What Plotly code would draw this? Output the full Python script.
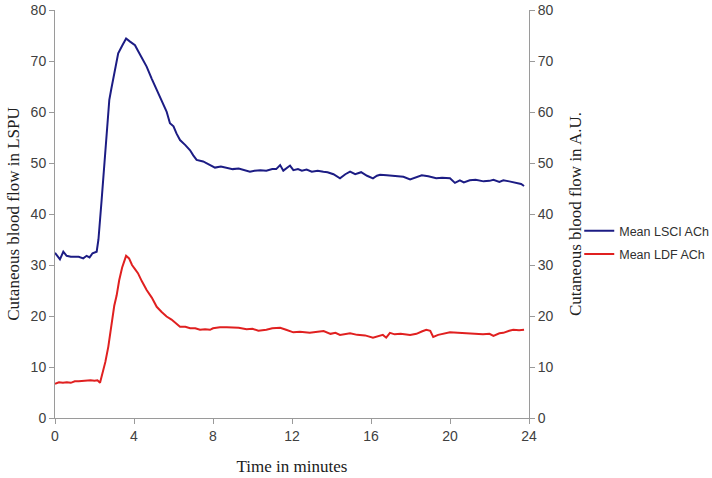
import plotly.graph_objects as go

lsci_t = [0, 0.25, 0.42, 0.59, 0.8, 1.0, 1.2, 1.43, 1.6, 1.75, 1.9, 2.11, 2.2, 2.36, 2.47, 2.58, 2.67, 2.75, 2.85, 2.95,
          3.08, 3.2, 3.4, 3.6, 3.8, 4.05, 4.2, 4.4, 4.64, 4.9, 5.15, 5.4, 5.65, 5.82, 6.0, 6.15, 6.33, 6.6, 6.84, 7.0,
          7.17, 7.5, 7.85, 8.1, 8.4, 8.7, 9.0, 9.3, 9.6, 9.87, 10.1, 10.4, 10.7, 11.0, 11.2, 11.4, 11.56, 11.75, 11.9,
          12.07, 12.3, 12.5, 12.74, 13.0, 13.3, 13.59, 13.8, 14.1, 14.43, 14.7, 14.94, 15.2, 15.5, 15.8, 16.1, 16.3,
          16.46, 16.8, 17.1, 17.4, 17.64, 17.98, 18.3, 18.57, 18.9, 19.3, 19.6, 20.0, 20.25, 20.5, 20.7, 21.0, 21.3,
          21.7, 22.0, 22.2, 22.5, 22.7, 23.0, 23.4, 23.6, 23.75]
lsci_v = [32.4, 31.1, 32.6, 31.8, 31.6, 31.6, 31.6, 31.3, 31.8, 31.5, 32.3, 32.6, 35.0, 42.7, 48.0, 53.9, 59.0, 62.4, 64.5, 66.3,
          69.0, 71.5, 73.0, 74.4, 73.8, 73.1, 72.0, 70.6, 68.9, 66.5, 64.3, 62.0, 60.1, 57.8, 57.2, 55.8, 54.5, 53.5, 52.5, 51.5,
          50.6, 50.3, 49.6, 49.1, 49.3, 49.0, 48.8, 48.9, 48.6, 48.3, 48.5, 48.6, 48.5, 48.8, 48.8, 49.6, 48.5, 49.0, 49.5,
          48.6, 48.8, 48.5, 48.7, 48.3, 48.5, 48.3, 48.2, 47.8, 47.0, 47.8, 48.3, 47.8, 48.2, 47.5, 47.0, 47.5,
          47.7, 47.6, 47.5, 47.5, 47.3, 46.8, 47.2, 47.6, 47.4, 47.0, 47.1, 47.0, 46.1, 46.6, 46.2, 46.6, 46.7,
          46.4, 46.5, 46.7, 46.3, 46.6, 46.4, 46.1, 45.9, 45.5]

ldf_t = [0, 0.2, 0.4, 0.6, 0.8, 1.0, 1.2, 1.4, 1.6, 1.8, 2.0, 2.15, 2.28, 2.4, 2.55, 2.7, 2.85, 3.0, 3.12, 3.25, 3.4,
         3.6, 3.75, 3.9, 4.05, 4.2, 4.4, 4.64, 4.9, 5.15, 5.4, 5.65, 5.9, 6.1, 6.33, 6.6, 6.84, 7.1, 7.34, 7.6, 7.85,
         8.0, 8.35, 8.7, 9.03, 9.3, 9.7, 10.0, 10.3, 10.7, 11.0, 11.4, 11.7, 12.07, 12.4, 12.9, 13.3, 13.6, 13.95,
         14.2, 14.43, 14.7, 14.94, 15.3, 15.7, 16.1, 16.4, 16.6, 16.77, 16.96, 17.2, 17.5, 17.98, 18.3, 18.6, 18.8,
         19.0, 19.15, 19.4, 19.7, 20.0, 20.4, 20.84, 21.2, 21.67, 22.0, 22.2, 22.5, 22.7, 23.0, 23.2, 23.5, 23.75]
ldf_v = [6.7, 7.0, 6.9, 7.0, 6.9, 7.2, 7.2, 7.3, 7.4, 7.4, 7.3, 7.4, 6.9, 8.5, 11.0, 14.0, 18.0, 22.0, 24.0, 27.0, 29.5,
         31.8, 31.3, 30.0, 29.2, 28.4, 26.8, 25.1, 23.6, 21.8, 20.8, 19.9, 19.3, 18.6, 17.9, 17.9, 17.6, 17.6, 17.3, 17.4, 17.3,
         17.6, 17.8, 17.8, 17.8, 17.7, 17.4, 17.5, 17.1, 17.3, 17.6, 17.7, 17.3, 16.8, 16.9, 16.7, 16.9, 17.05, 16.5,
         16.7, 16.3, 16.5, 16.6, 16.3, 16.2, 15.75, 16.0, 16.3, 15.75, 16.7, 16.4, 16.5, 16.3, 16.5, 17.0, 17.3,
         17.1, 15.9, 16.3, 16.6, 16.8, 16.7, 16.6, 16.6, 16.4, 16.5, 16.1, 16.6, 16.7, 17.1, 17.3, 17.2, 17.3]

x_ticks = [0, 4, 8, 12, 16, 20, 24]
y_ticks = [0, 10, 20, 30, 40, 50, 60, 70, 80]

fig = go.Figure()
fig.add_trace(go.Scatter(x=lsci_t, y=lsci_v, mode="lines", name="Mean LSCI ACh", legendgroup="a",
                         line=dict(color="#1c1c84", width=2)))
fig.add_trace(go.Scatter(x=ldf_t, y=ldf_v, mode="lines", name="Mean LDF ACh", yaxis="y2", legendgroup="b",
                         line=dict(color="#e02020", width=2)))

axis_common = dict(showgrid=False, zeroline=False, showline=True, linecolor="#9a9a9a", linewidth=1,
                   ticks="outside", ticklen=5, tickcolor="#9a9a9a", automargin=False,
                   tickfont=dict(family="Liberation Sans, Arial", size=14, color="#404040"))

title_font = dict(family="Liberation Serif, Times New Roman", size=17, color="#202020")

fig.update_layout(
    width=712, height=478,
    margin=dict(l=55, r=183, t=10, b=60, autoexpand=False),
    paper_bgcolor="white", plot_bgcolor="white",
    xaxis=dict(range=[0, 24], tickvals=x_ticks, **axis_common,
               title=dict(text="Time in minutes", font=title_font, standoff=17)),
    yaxis=dict(range=[0, 80], tickvals=y_ticks, **axis_common,
               title=dict(text="Cutaneous blood flow in LSPU", font=title_font, standoff=6)),
    yaxis2=dict(range=[0, 80], tickvals=y_ticks, overlaying="y", side="right", **axis_common,
                title=dict(text="Cutaneous blood flow in A.U.", font=title_font, standoff=16)),
    legend=dict(x=1.106, y=0.43, xanchor="left", yanchor="middle", bgcolor="rgba(0,0,0,0)",
                font=dict(family="Liberation Sans, Arial", size=12.5, color="#303030"),
                itemwidth=30, tracegroupgap=4),
    showlegend=True,
)

fig.write_html("out.html", post_script="document.body.style.margin='0';",
               config={"displayModeBar": False})
